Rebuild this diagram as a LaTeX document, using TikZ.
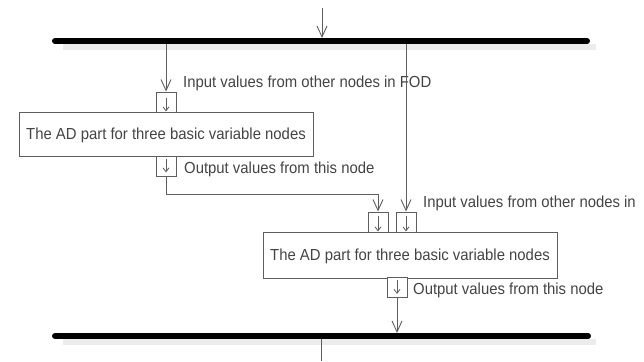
\documentclass[tikz,border=0pt]{standalone}
\usepackage{fontspec}
\setmainfont{Liberation Sans}[FakeStretch=0.93]
\usetikzlibrary{arrows.meta}
\definecolor{linegray}{HTML}{5E5E5E}
\definecolor{textgray}{HTML}{444444}
\definecolor{shadowgray}{HTML}{ECECEC}
\tikzset{
  txt/.style={font=\fontsize{16}{19}\selectfont, text=textgray},
  partbox/.style={draw=linegray, line width=0.9pt, fill=white, minimum width=294pt,
    minimum height=44pt, inner sep=0pt, text depth=0pt, txt},
  pinbox/.style={draw=linegray, line width=0.9pt, fill=white, minimum width=20pt,
    minimum height=20pt, inner sep=0pt},
  lbl/.style={txt, inner sep=0pt, anchor=base west},
  flow/.style={draw=linegray, line width=0.9pt, -{Straight Barb[length=11pt,width=10pt,line width=0.9pt]}},
  plain/.style={draw=linegray, line width=0.9pt},
  pinarrow/.style={draw=linegray, line width=0.8pt, -{Straight Barb[length=4pt,width=6pt,line width=0.8pt]}},
  syncbar/.style={line width=6pt, line cap=round, draw=black},
  barshadow/.style={line width=6pt, draw=shadowgray}
}
\begin{document}
\begin{tikzpicture}[x=1pt,y=-1pt]
\useasboundingbox (0,0) rectangle (644,361);
\fill[white] (0,0) rectangle (644,361);

% fork and join bars with their soft shadows
\draw[barshadow] (63,47) -- (596,47);
\draw[barshadow] (63,342) -- (596,342);
\draw[syncbar] (55,41) coordinate (forkL) -- (587,41) coordinate (forkR);
\draw[syncbar] (55,336) coordinate (joinL) -- (588,336) coordinate (joinR);

\coordinate (topin) at (322,8);
\coordinate (forkin) at (322,38);
\coordinate (forkA) at (166,44);
\coordinate (forkB) at (406,44);
\coordinate (joinin) at (397,333);
\coordinate (joinout) at (321,339);
\coordinate (outexit) at (321,361);

% first AD part
\node[partbox] (ad1) at (166,134) {The AD part for three basic variable nodes};
\node[pinbox] (in1) at (166,102) {};
\node[pinbox] (out1) at (166,166) {};
\draw[pinarrow] ([yshift=-6pt]in1.north) -- ([yshift=1pt]in1.south);
\draw[pinarrow] ([yshift=-3pt]out1.north) -- ([yshift=4pt]out1.south);

% second AD part
\node[partbox, minimum height=46pt] (ad2) at (410,255) {The AD part for three basic variable nodes};
\node[pinbox] (in2a) at (378,222) {};
\node[pinbox] (in2b) at (406,222) {};
\node[pinbox] (out2) at (397,287.5) {};
\draw[pinarrow] ([yshift=-4pt]in2a.north) -- ([yshift=1pt]in2a.south);
\draw[pinarrow] ([yshift=-4pt]in2b.north) -- ([yshift=1pt]in2b.south);
\draw[pinarrow] ([yshift=-3pt]out2.north) -- ([yshift=4pt]out2.south);

% pin labels
\node[lbl] (lin1) at (183,87) {Input values from other nodes in FOD};
\node[lbl] (lout1) at (184,173) {Output values from this node};
\node[lbl] (lin2) at (423,207) {Input values from other nodes in};
\node[lbl] (lout2) at (413,294) {Output values from this node};

% control and object flows
\draw[flow] (topin) -- (forkin);
\draw[flow] (forkA) -- (in1.north);
\draw[flow] (forkB) -- (in2b.north);
\draw[flow] (out1.south) |- (378,194) -- (in2a.north);
\draw[flow] (out2.south) -- (joinin);
\draw[plain] (joinout) -- (outexit);
\end{tikzpicture}
\end{document}
